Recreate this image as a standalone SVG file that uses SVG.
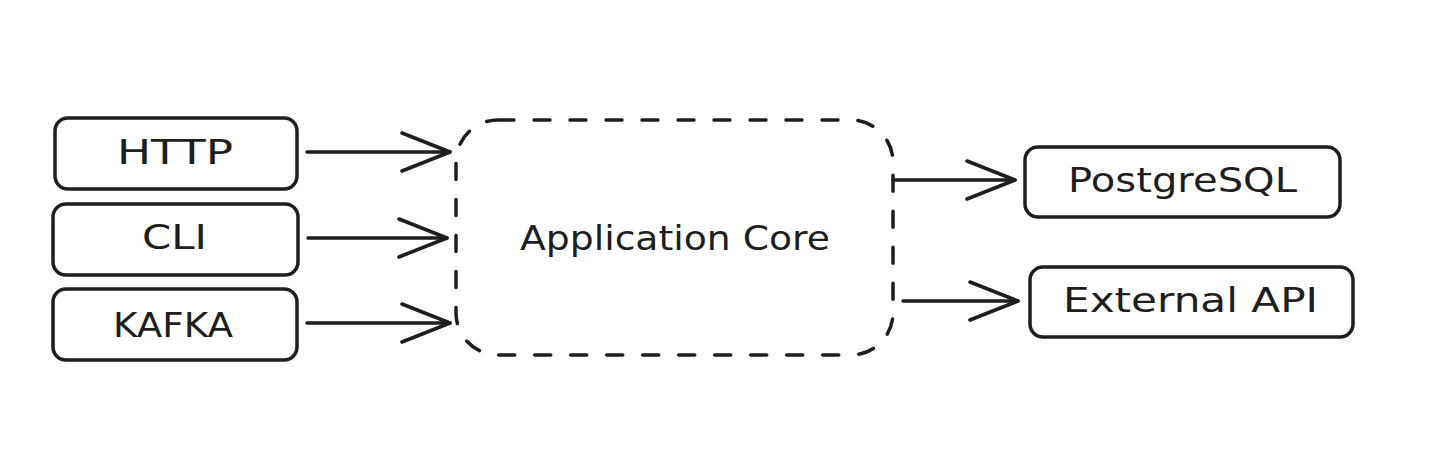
<svg xmlns="http://www.w3.org/2000/svg" width="1450" height="450" viewBox="0 0 1450 450">
  <style>
    .box { fill: #ffffff; stroke: #1e1e1e; stroke-width: 3.5; }
    .core { fill: none; stroke: #1e1e1e; stroke-width: 3.5; stroke-dasharray: 16 20; stroke-linecap: round; }
    .lbl { font-family: "DejaVu Sans", "Liberation Sans", sans-serif; font-size: 33px; fill: #1e1e1e; text-anchor: start; }
    .conn { fill: none; stroke: #1e1e1e; stroke-width: 3.5; stroke-linecap: round; }
  </style>
  <defs>
    <marker id="arrow" markerUnits="userSpaceOnUse" markerWidth="60" markerHeight="50" refX="50" refY="25" orient="auto" viewBox="0 0 60 50">
      <path d="M2,6 L50,25 L2,44" fill="none" stroke="#1e1e1e" stroke-width="3.5" stroke-linecap="round" stroke-linejoin="round"/>
    </marker>
  </defs>
  <rect width="1450" height="450" fill="#ffffff"/>

  <g id="node-http">
    <rect class="box" x="55" y="118" width="242" height="71" rx="13"/>
    <text class="lbl" x="117" y="164" textLength="116" lengthAdjust="spacingAndGlyphs">HTTP</text>
  </g>
  <g id="node-cli">
    <rect class="box" x="53" y="204" width="245" height="71" rx="13"/>
    <text class="lbl" x="142" y="249" textLength="65" lengthAdjust="spacingAndGlyphs">CLI</text>
  </g>
  <g id="node-kafka">
    <rect class="box" x="53" y="289" width="244" height="71" rx="13"/>
    <text class="lbl" x="113" y="337" textLength="120" lengthAdjust="spacingAndGlyphs">KAFKA</text>
  </g>
  <g id="node-core">
    <rect class="core" x="456" y="120" width="437" height="235" rx="42"/>
    <text class="lbl" x="520" y="250" textLength="310" lengthAdjust="spacingAndGlyphs">Application Core</text>
  </g>
  <g id="node-postgres">
    <rect class="box" x="1025" y="147" width="315" height="70" rx="13"/>
    <text class="lbl" x="1068" y="192" textLength="229" lengthAdjust="spacingAndGlyphs">PostgreSQL</text>
  </g>
  <g id="node-extapi">
    <rect class="box" x="1030" y="267" width="323" height="70" rx="13"/>
    <text class="lbl" x="1063" y="312" textLength="255" lengthAdjust="spacingAndGlyphs">External API</text>
  </g>

  <g id="connectors">
    <line class="conn" x1="307" y1="152" x2="450" y2="152" marker-end="url(#arrow)"/>
    <line class="conn" x1="308" y1="238" x2="447" y2="238" marker-end="url(#arrow)"/>
    <line class="conn" x1="307" y1="323" x2="450" y2="323" marker-end="url(#arrow)"/>
    <line class="conn" x1="893" y1="180" x2="1015" y2="180" marker-end="url(#arrow)"/>
    <line class="conn" x1="903" y1="301" x2="1018" y2="301" marker-end="url(#arrow)"/>
  </g>
</svg>
